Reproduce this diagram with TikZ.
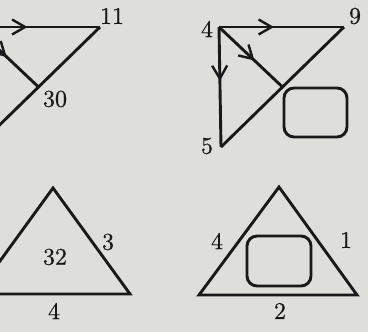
\documentclass[tikz,border=0pt]{standalone}
\usepackage{fontspec}
\newfontfamily\lblfont{lmroman10-regular.otf}[FakeBold=0.6]
\usetikzlibrary{arrows.meta,decorations.markings,calc}
\definecolor{paper}{RGB}{222,222,218}
\definecolor{ink}{RGB}{25,25,25}
\tikzset{
  edge/.style={draw=ink, line width=2.9pt, line join=miter},
  lbl/.style={font=\lblfont\fontsize{24}{30}\selectfont, text=ink, inner sep=0pt},
  box/.style={draw=ink, line width=2.9pt, rounded corners=10pt, minimum width=63pt, minimum height=49pt, inner sep=0pt},
  marr/.style={postaction={decorate, decoration={markings,
      mark=at position #1 with {\arrow{Straight Barb[length=13pt,width=15pt,line width=2.4pt]}}}}}
}
\begin{document}
\begin{tikzpicture}[x=1pt,y=-1pt]
\useasboundingbox (0,0) rectangle (368,332);
\fill[paper] (0,0) rectangle (368,332);
\clip (0,0) rectangle (368,332);
% top-left panel
\coordinate (a4) at (-25,27);
\coordinate (a11) at (100,27);
\coordinate (a5) at (-23,147);
\coordinate (am) at ($(a11)!0.5!(a5)$);
\path[edge, marr=0.42] (a4) -- (a11);
\path[edge] (a11) -- (a5);
\path[edge, marr=0.5] (a4) -- (am);
\node[lbl] (t11) at (112,16) {11};
\node[lbl] (t30) at (55,99) {30};
% top-right panel
\coordinate (b4) at (219,27);
\coordinate (b9) at (344,27);
\coordinate (b5) at (221,147);
\coordinate (bm) at ($(b9)!0.5!(b5)$);
\path[edge, marr=0.44] (b4) -- (b9);
\path[edge, marr=0.45] (b4) -- (b5);
\path[edge] (b9) -- (b5);
\path[edge, marr=0.56] (b4) -- (bm);
\node[lbl] (t4a) at (207,29) {4};
\node[lbl] (t9) at (355,16) {9};
\node[lbl] (t5) at (207,146) {5};
\node[box] (boxA) at (315.5,112.5) {};
% bottom-left panel
\coordinate (c1) at (53,188);
\coordinate (c2) at (130,294);
\coordinate (c3) at (-24,294);
\path[edge] (c1) -- (c2) -- (c3) -- cycle;
\node[lbl] (t32) at (55,257) {32};
\node[lbl] (t3) at (108,242) {3};
\node[lbl] (t4b) at (54,311) {4};
% bottom-right panel
\coordinate (d1) at (279,187);
\coordinate (d2) at (357,295);
\coordinate (d3) at (199,295);
\path[edge] (d1) -- (d2) -- (d3) -- cycle;
\node[lbl] (t4c) at (217,241) {4};
\node[lbl] (t1) at (346,240) {1};
\node[lbl] (t2) at (280,311) {2};
\node[box, minimum width=64pt, minimum height=50pt] (boxB) at (279,261) {};
\end{tikzpicture}
\end{document}
